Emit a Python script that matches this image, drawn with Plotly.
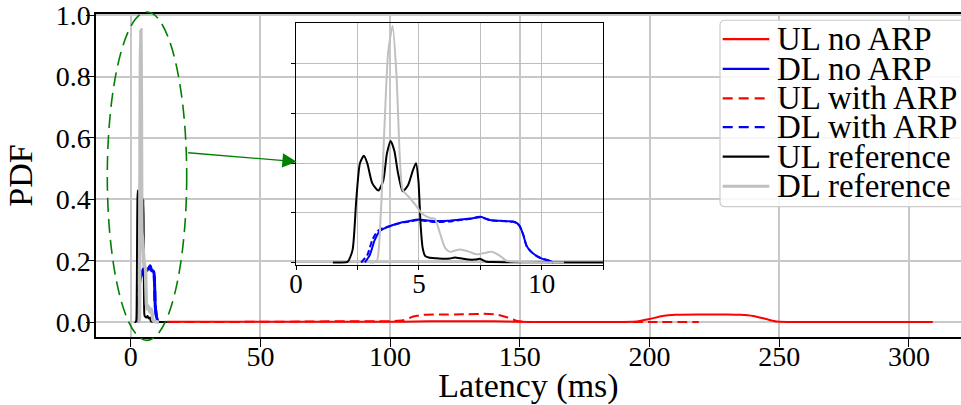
import plotly.graph_objects as go

# ---------------- data: latency PDFs (x in ms, y = density) ----------------
ul_noarp_x = [14, 20, 40, 60, 80, 100, 110, 120, 130, 140, 149, 160, 180, 195,
              200, 205, 210, 220, 230, 235, 240, 245, 249, 260, 280, 300, 309.2]
ul_noarp_y = [0.001, 0.001, 0.001, 0.001, 0.001, 0.001, 0.002, 0.003, 0.003, 0.003,
              0.001, 0.0005, 0.0005, 0.002, 0.01, 0.02, 0.024, 0.025, 0.025, 0.024,
              0.02, 0.01, 0.002, 0.0003, 0.0002, 0.0002, 0.0002]

dl_noarp_x = [2.8, 3.0, 3.2, 3.41, 3.6, 3.82, 4.1, 4.36, 4.65, 4.97, 5.3, 5.72, 6.2,
              6.67, 7.1, 7.48, 7.7, 7.89, 8.3, 8.83, 9.0, 9.1, 9.25, 9.38, 9.55, 9.78,
              10.0, 10.3, 10.46]
dl_noarp_y = [0.0, 0.03, 0.09, 0.127, 0.138, 0.147, 0.156, 0.163, 0.168, 0.173, 0.17,
              0.167, 0.168, 0.173, 0.177, 0.184, 0.178, 0.171, 0.168, 0.165, 0.158,
              0.147, 0.11, 0.067, 0.045, 0.027, 0.016, 0.007, 0.0]

ul_arp_x = [15, 30, 50, 70, 85, 95, 100, 105, 109, 113, 120, 125, 130, 136, 141, 145,
            149, 152, 160, 180, 200, 219]
ul_arp_y = [0.0, 0.0005, 0.001, 0.002, 0.003, 0.003, 0.003, 0.006, 0.018, 0.024, 0.025,
            0.025, 0.026, 0.027, 0.025, 0.016, 0.004, 0.001, 0.0005, 0.0003, 0.0003, 0.0002]

dl_arp_x = [2.65, 2.9, 3.1, 3.3, 3.5, 3.82, 4.1, 4.36, 4.65, 4.97, 5.3, 5.72, 6.2,
            6.67, 7.1, 7.48, 7.7, 7.89, 8.3, 8.83, 9.0, 9.1, 9.25, 9.38, 9.55, 9.78,
            10.0, 10.3, 10.46]
dl_arp_y = [0.0, 0.03, 0.09, 0.125, 0.137, 0.146, 0.155, 0.162, 0.166, 0.171, 0.167,
            0.163, 0.165, 0.171, 0.176, 0.182, 0.177, 0.17, 0.167, 0.164, 0.157,
            0.146, 0.11, 0.067, 0.045, 0.027, 0.016, 0.007, 0.0]

ul_ref_x = [1.5, 1.8, 2.1, 2.3, 2.45, 2.6, 2.76, 2.9, 3.1, 3.35, 3.55, 3.7, 3.85, 4.0,
            4.15, 4.34, 4.55, 4.75, 4.88, 4.98, 5.07, 5.15, 5.25, 5.4, 5.7, 6.0, 6.26,
            6.46, 6.7, 7.0, 7.3, 7.48, 7.75, 8.0, 9.0, 11.0, 13.0, 15.5]
ul_ref_y = [0.0, 0.0, 0.003, 0.05, 0.25, 0.40, 0.43, 0.40, 0.32, 0.29, 0.33, 0.44, 0.49,
            0.45, 0.36, 0.287, 0.31, 0.37, 0.40, 0.33, 0.15, 0.06, 0.027, 0.02, 0.017,
            0.015, 0.016, 0.02, 0.017, 0.012, 0.012, 0.015, 0.003, 0.002, 0.001,
            0.0005, 0.0003, 0.0]

dl_ref_x = [3.0, 3.28, 3.45, 3.6, 3.75, 3.93, 4.09, 4.23, 4.34, 4.63, 4.9, 5.1, 5.45,
            5.65, 5.85, 6.06, 6.26, 6.67, 7.0, 7.34, 7.65, 7.95, 8.3, 8.56, 9.0, 10.0, 10.9]
dl_ref_y = [0.0, 0.005, 0.2, 0.55, 0.85, 0.953, 0.75, 0.41, 0.293, 0.26, 0.227, 0.2,
            0.18, 0.176, 0.12, 0.06, 0.043, 0.053, 0.045, 0.033, 0.038, 0.043, 0.027,
            0.007, 0.003, 0.001, 0.0]

series_names = ["UL no ARP", "DL no ARP", "UL with ARP", "DL with ARP",
                "UL reference", "DL reference"]

main_yticks = [0.0, 0.2, 0.4, 0.6, 0.8, 1.0]
main_xticks = [0, 50, 100, 150, 200, 250, 300]
inset_xticks = [0, 2.5, 5, 7.5, 10, 12.5]
inset_xlabels = ["0", "", "5", "", "10", ""]
inset_yticks = [0.0, 0.2, 0.4, 0.6, 0.8]

# ---------------- styling ----------------
FONT = "Liberation Serif, Times New Roman, serif"
W, H = 961, 405
L, R, T, B = 96, 961, 13, 338.3  # plot-area edges in pixels
MAIN_XRANGE = [(L - 130.7) / 2.594, (R - 130.7) / 2.594]
INSET_XRANGE = [0, 12.5]


def fx(p):
    return (p - L) / (R - L)


def fy(p):
    return (B - p) / (B - T)


styles = [
    dict(x=ul_noarp_x, y=ul_noarp_y, color="#ff0000", dash="solid", w=2),
    dict(x=dl_noarp_x, y=dl_noarp_y, color="#0000ff", dash="solid", w=3),
    dict(x=ul_arp_x, y=ul_arp_y, color="#ff0000", dash="10px,5px", w=2),
    dict(x=dl_arp_x, y=dl_arp_y, color="#0000ff", dash="10px,5px", w=3),
    dict(x=ul_ref_x, y=ul_ref_y, color="#000000", dash="solid", w=2),
    dict(x=dl_ref_x, y=dl_ref_y, color="#c0c0c0", dash="solid", w=3.5),
]

fig = go.Figure()

# main axes (the "UL no ARP" curve is placed on the labelled overlay axis x3)
for i, (name, s) in enumerate(zip(series_names, styles)):
    fig.add_trace(go.Scatter(x=s["x"], y=s["y"], mode="lines", name=name,
                             line=dict(color=s["color"], dash=s["dash"], width=s["w"],
                                       shape="spline", smoothing=0.6),
                             showlegend=False, xaxis="x3" if i == 0 else "x", yaxis="y"))

# zoomed inset (the "UL no ARP" curve sits on the labelled overlay axis x4)
for i, (name, s) in enumerate(zip(series_names, styles)):
    fig.add_trace(go.Scatter(x=s["x"], y=s["y"], mode="lines", name=name,
                             line=dict(color=s["color"], dash="6px,3px" if s["dash"] != "solid" else "solid",
                                       width=2, shape="spline", smoothing=0.6),
                             showlegend=False, xaxis="x4" if i == 0 else "x2", yaxis="y2"))

fig.update_layout(
    width=W, height=H,
    margin=dict(l=L, r=W - R, t=T, b=H - B),
    paper_bgcolor="white",
    plot_bgcolor="rgba(0,0,0,0)",
    font=dict(family=FONT, color="black", size=28),
    # main x axis: frame, tick marks and grid
    xaxis=dict(range=MAIN_XRANGE, tickvals=main_xticks, showticklabels=False,
               ticks="outside", ticklen=8, tickwidth=1.3, tickcolor="black",
               showline=True, linecolor="black", linewidth=1.5, mirror=True,
               showgrid=True, gridcolor="#c8c8c8", gridwidth=1.6, zeroline=False),
    # main x axis: tick labels and title, sitting close under the tick marks
    xaxis3=dict(range=MAIN_XRANGE, overlaying="x", anchor="y", side="bottom",
                tickvals=main_xticks, ticks="", showline=False, showgrid=False,
                zeroline=False, ticklabeloverflow="allow",
                title=dict(text="Latency (ms)", font=dict(size=34), standoff=9)),
    yaxis=dict(range=[-0.0485, 1.004], tickvals=main_yticks, tickformat=".1f",
               ticklabeloverflow="allow", ticklabelstandoff=-10,
               ticks="outside", ticklen=8, tickwidth=1.3, tickcolor="black",
               showline=True, linecolor="black", linewidth=1.5, mirror=False,
               showgrid=True, gridcolor="#c8c8c8", gridwidth=1.6, zeroline=False,
               title=dict(text="PDF", font=dict(size=34), standoff=13)),
    xaxis2=dict(domain=[fx(296), fx(603.3)], anchor="y2", range=INSET_XRANGE,
                tickvals=inset_xticks, showticklabels=False,
                ticks="outside", ticklen=4, tickwidth=1, tickcolor="black",
                showline=True, linecolor="black", linewidth=1.2, mirror=True,
                showgrid=True, gridcolor="#bdbdbd", gridwidth=1, zeroline=False),
    xaxis4=dict(range=INSET_XRANGE, overlaying="x2", anchor="y2", side="bottom",
                tickvals=inset_xticks, ticktext=inset_xlabels, tickfont=dict(size=27),
                ticks="", showline=False, showgrid=False, zeroline=False,
                ticklabeloverflow="allow"),
    yaxis2=dict(domain=[fy(266), fy(21.7)], anchor="x2", range=[-0.0108, 0.9664],
                tickvals=inset_yticks, showticklabels=False,
                ticks="outside", ticklen=4, tickwidth=1, tickcolor="black",
                showline=True, linecolor="black", linewidth=1.2, mirror=True,
                showgrid=True, gridcolor="#bdbdbd", gridwidth=1, zeroline=False),
)

shapes = []
annotations = []

# dashed ellipse marking the zoomed region
shapes.append(dict(type="circle", xref="paper", yref="paper",
                   x0=fx(107.3), x1=fx(186.7), y0=fy(341.7), y1=fy(11),
                   line=dict(color="#008000", width=1.6, dash="14px,7px")))

# arrow from the ellipse to the inset
annotations.append(dict(xref="paper", yref="paper", x=fx(296.7), y=fy(161.7),
                        ax=-110, ay=-9, text="", showarrow=True, arrowhead=2,
                        arrowsize=2.2, arrowwidth=1.3, arrowcolor="#008000", standoff=0))

# legend box
lx0, lx1, ly0, ly1, rr = 720, 985, 19.3, 207, 5
legend_path = (f"M {fx(lx0 + rr)} {fy(ly0)} L {fx(lx1)} {fy(ly0)} L {fx(lx1)} {fy(ly1)} "
               f"L {fx(lx0 + rr)} {fy(ly1)} Q {fx(lx0)} {fy(ly1)} {fx(lx0)} {fy(ly1 - rr)} "
               f"L {fx(lx0)} {fy(ly0 + rr)} Q {fx(lx0)} {fy(ly0)} {fx(lx0 + rr)} {fy(ly0)} Z")
shapes.append(dict(type="path", xref="paper", yref="paper", path=legend_path,
                   fillcolor="rgba(255,255,255,0.85)", line=dict(color="#cccccc", width=1.2),
                   layer="above"))

row_y = [38.3, 68.3, 98.0, 127.0, 156.7, 186.4]
for name, s, cy in zip(series_names, styles, row_y):
    shapes.append(dict(type="line", xref="paper", yref="paper",
                       x0=fx(722.7), x1=fx(769.3), y0=fy(cy), y1=fy(cy),
                       line=dict(color=s["color"], width=3 if s["color"] == "#c0c0c0" else 2.2,
                                 dash="10px,6px" if s["dash"] != "solid" else "solid"),
                       layer="above"))
    annotations.append(dict(xref="paper", yref="paper", x=fx(775), y=fy(cy),
                            xanchor="left", yanchor="middle", text=name, showarrow=False,
                            font=dict(size=33)))

fig.update_layout(shapes=shapes, annotations=annotations)

fig.write_html("out.html")
